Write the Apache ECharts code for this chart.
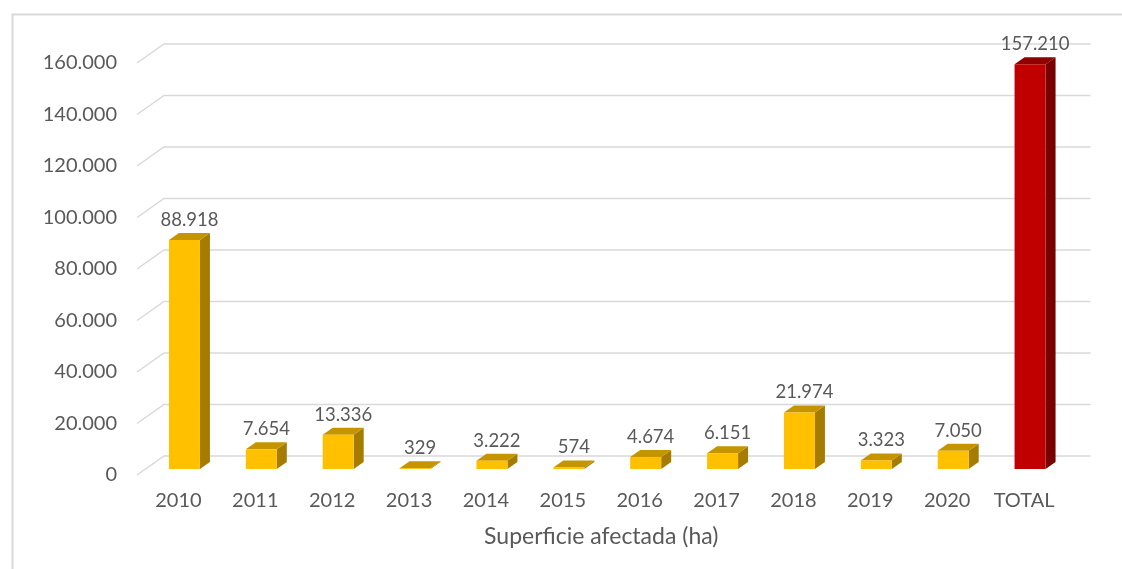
<!DOCTYPE html>
<html>
<head>
<meta charset="utf-8">
<style>
  html, body { margin: 0; padding: 0; background: #ffffff; }
  #chart { width: 1122px; height: 569px; }
</style>
<script src="https://cdn.jsdelivr.net/npm/echarts@6/dist/echarts.min.js"></script>
</head>
<body>
<div id="chart"></div>
<script>
// Burned area per year (ha) and the overall total
const years = ['2010', '2011', '2012', '2013', '2014', '2015', '2016', '2017', '2018', '2019', '2020'];
const yearValues = [88918, 7654, 13336, 329, 3222, 574, 4674, 6151, 21974, 3323, 7050];
const totalLabel = 'TOTAL';
const totalValue = 157210;
const yTicks = [0, 20000, 40000, 60000, 80000, 100000, 120000, 140000, 160000];
const axisTitle = 'Superficie afectada (ha)';

const categories = years.concat([totalLabel]);

// Spanish-style thousands separator
function fmt(v) {
  return String(Math.round(v)).replace(/\B(?=(\d{3})+(?!\d))/g, '.');
}

const FONT = 'Lato';
const DEPTH_X = 10, DEPTH_Y = -7;     // bar depth offset
const WALL_X = 27, WALL_Y = -19;       // back wall offset from the axis plane
const BAR_SHIFT_X = 6, BAR_SHIFT_Y = -6; // bars sit between axis plane and wall
const BAR_W = 31;

function makeBarRenderer(front, top, side) {
  return function (params, api) {
    const cat = api.value(0);
    const val = api.value(1);
    const p = api.coord([cat, val]);
    const b = api.coord([cat, 0]);
    const cx = p[0] + BAR_SHIFT_X;
    const x0 = cx - BAR_W / 2, x1 = cx + BAR_W / 2;
    const yt = p[1] + BAR_SHIFT_Y, yb = b[1] + BAR_SHIFT_Y;
    return {
      type: 'group',
      children: [
        { type: 'polygon', shape: { points: [[x1, yt], [x1 + DEPTH_X, yt + DEPTH_Y], [x1 + DEPTH_X, yb + DEPTH_Y], [x1, yb]] },
          style: { fill: side } },
        { type: 'polygon', shape: { points: [[x0, yt], [x1, yt], [x1 + DEPTH_X, yt + DEPTH_Y], [x0 + DEPTH_X, yt + DEPTH_Y]] },
          style: { fill: top } },
        { type: 'rect', shape: { x: x0, y: yt, width: BAR_W, height: Math.max(yb - yt, 0) },
          style: { fill: front } },
        { type: 'text', x: cx + DEPTH_X / 2, y: yt + DEPTH_Y - 13,
          style: { text: fmt(val), fill: '#595959', font: '18.5px ' + FONT, align: 'center', verticalAlign: 'middle' } }
      ]
    };
  };
}

function renderGrid(params, api) {
  const v = api.value(1);
  const y = api.coord([0, v])[1];
  const cs = params.coordSys;
  const xa = cs.x - 3;
  const xb = cs.x + cs.width + 28;
  return {
    type: 'polyline',
    shape: { points: [[xa, y], [xa + WALL_X, y + WALL_Y], [xb, y + WALL_Y]] },
    style: { stroke: '#d9d9d9', lineWidth: 1.5, fill: null }
  };
}

const chart = echarts.init(document.getElementById('chart'), null, { renderer: 'canvas' });
chart.setOption({
  backgroundColor: '#ffffff',
  animation: false,
  graphic: [{
    type: 'rect', left: 10, top: 12,
    shape: { width: 1200, height: 600 },
    style: { fill: null, stroke: '#d9d9d9', lineWidth: 2 },
    silent: true
  }],
  grid: { left: 140, right: 59.5, top: 63, bottom: 94, containLabel: false },
  xAxis: {
    type: 'category',
    data: categories,
    axisLine: { show: false },
    axisTick: { show: false },
    axisLabel: { color: '#595959', fontFamily: FONT, fontSize: 20, margin: 16, interval: 0, hideOverlap: false },
    name: axisTitle,
    nameLocation: 'middle',
    nameGap: 50,
    nameTextStyle: { color: '#595959', fontFamily: FONT, fontSize: 23 }
  },
  yAxis: {
    type: 'value',
    min: 0, max: 160000, interval: 20000,
    axisLine: { show: false },
    axisTick: { show: false },
    splitLine: { show: false },
    axisLabel: { color: '#595959', fontFamily: FONT, fontSize: 20, margin: 23, formatter: fmt }
  },
  series: [
    {
      type: 'custom',
      name: 'grid',
      renderItem: renderGrid,
      data: yTicks.map(v => [0, v]),
      z: 1,
      silent: true
    },
    {
      type: 'custom',
      name: 'years',
      renderItem: makeBarRenderer('#ffc000', '#c59500', '#a67c00'),
      data: yearValues.map((v, i) => [i, v]),
      z: 5
    },
    {
      type: 'custom',
      name: 'total',
      renderItem: makeBarRenderer('#c00000', '#900000', '#780000'),
      data: [[categories.length - 1, totalValue]],
      z: 5
    }
  ]
});
</script>
</body>
</html>
